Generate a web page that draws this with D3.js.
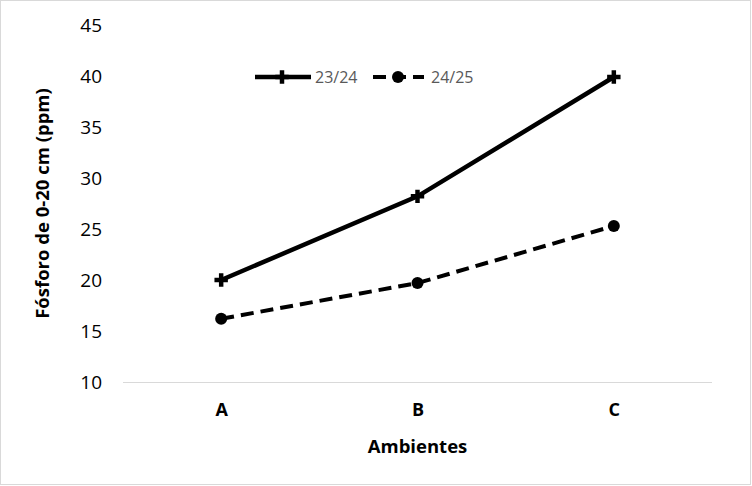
<!DOCTYPE html>
<html>
<head>
<meta charset="utf-8">
<script src="https://cdn.jsdelivr.net/npm/d3@7"></script>
<style>
  body { margin: 0; background: #fff; }
  text { font-family: "Open Sans", "Liberation Sans", sans-serif; }
</style>
</head>
<body>
<div class="chart"></div>
<script>
const ambientes = ['A', 'B', 'C']
const series = ['23/24', '24/25']
const valores2324 = [20.0, 28.2, 39.9]
const valores2425 = [16.2, 19.7, 25.3]
const yTicks = [10, 15, 20, 25, 30, 35, 40, 45]

const W = 752, H = 486
const margin = ({top: 25, right: 40, bottom: 104, left: 123})

const svg = d3.select('.chart').append('svg')
	.attr('width', W)
	.attr('height', H)

// chart border
svg.append('rect')
	.attr('x', 0.5).attr('y', 0.5)
	.attr('width', W - 2).attr('height', H - 2)
	.attr('fill', '#fff')
	.attr('stroke', '#d9d9d9')

const x = d3.scalePoint()
	.domain(ambientes)
	.range([margin.left, W - margin.right])
	.padding(0.5)

const y = d3.scaleLinear()
	.domain([10, 45])
	.range([H - margin.bottom, margin.top])

// y axis labels (no line)
const yAxis = d3.axisLeft(y).tickValues(yTicks).tickSize(0).tickPadding(21)
svg.append('g')
	.attr('transform', `translate(${margin.left},0)`)
	.call(yAxis)
	.call(g => g.select('.domain').remove())
	.selectAll('text')
	.attr('font-size', 19)
	.attr('fill', '#000')

// x axis
const xAxis = d3.axisBottom(x).tickSize(0).tickPadding(21)
svg.append('g')
	.attr('transform', `translate(0,${y(10)})`)
	.call(xAxis)
	.call(g => g.select('.domain')
		.attr('d', `M${margin.left},0.5H${W - margin.right}`)
		.attr('stroke', '#d9d9d9'))
	.selectAll('text')
	.attr('font-size', 18)
	.attr('font-weight', 'bold')
	.attr('fill', '#000')

svg.append('text')
	.attr('x', (margin.left + W - margin.right) / 2)
	.attr('y', 453)
	.attr('text-anchor', 'middle')
	.attr('font-size', 18.5)
	.attr('font-weight', 'bold')
	.text('Ambientes')

svg.append('text')
	.attr('transform', `translate(49,${(y(10) + y(45)) / 2}) rotate(-90)`)
	.attr('text-anchor', 'middle')
	.attr('font-size', 18.5)
	.attr('font-weight', 'bold')
	.text('Fósforo de 0-20 cm (ppm)')

const line = d3.line()
	.x((d, i) => x(ambientes[i]))
	.y(d => y(d))

const plus = d3.symbol().type(d3.symbolCross).size(100)

// 23/24 solid
svg.append('path')
	.datum(valores2324)
	.attr('d', line)
	.attr('fill', 'none')
	.attr('stroke', '#000')
	.attr('stroke-width', 4.5)

svg.selectAll('.m1')
	.data(valores2324)
	.enter()
	.append('path')
	.attr('class', 'm1')
	.attr('d', plus)
	.attr('transform', (d, i) => `translate(${x(ambientes[i])},${y(d)})`)
	.attr('fill', '#000')

// 24/25 dashed
svg.append('path')
	.datum(valores2425)
	.attr('d', line)
	.attr('fill', 'none')
	.attr('stroke', '#000')
	.attr('stroke-width', 4)
	.attr('stroke-dasharray', '13,7')

svg.selectAll('.m2')
	.data(valores2425)
	.enter()
	.append('circle')
	.attr('class', 'm2')
	.attr('cx', (d, i) => x(ambientes[i]))
	.attr('cy', d => y(d))
	.attr('r', 6)
	.attr('fill', '#000')

// legend
const ly = 77
const lg = svg.append('g')
lg.append('line')
	.attr('x1', 255).attr('x2', 311).attr('y1', ly).attr('y2', ly)
	.attr('stroke', '#000').attr('stroke-width', 4.5)
lg.append('path')
	.attr('d', plus)
	.attr('transform', `translate(282,${ly})`)
lg.append('text')
	.attr('x', 315).attr('y', ly + 6)
	.attr('font-size', 16).attr('fill', '#595959')
	.text(series[0])

lg.append('line')
	.attr('x1', 373).attr('x2', 424).attr('y1', ly).attr('y2', ly)
	.attr('stroke', '#000').attr('stroke-width', 4)
	.attr('stroke-dasharray', '13,7')
lg.append('circle')
	.attr('cx', 398).attr('cy', ly).attr('r', 6)
lg.append('text')
	.attr('x', 431).attr('y', ly + 6)
	.attr('font-size', 16).attr('fill', '#595959')
	.text(series[1])
</script>
</body>
</html>
